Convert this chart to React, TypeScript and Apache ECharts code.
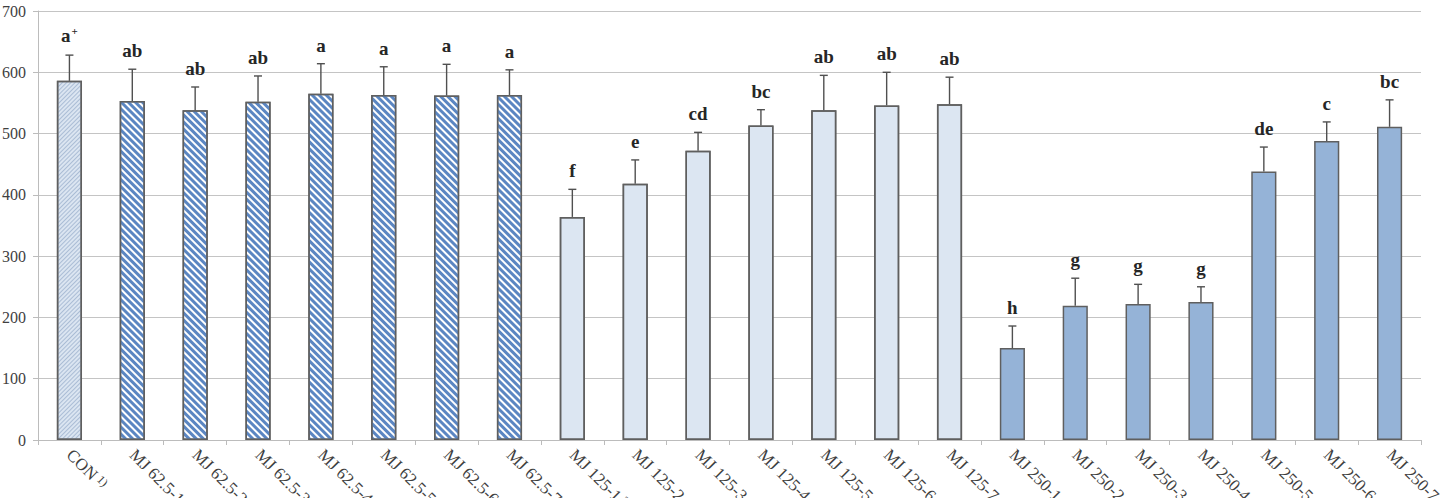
import React, { useEffect, useRef } from "react";
import * as echarts from "echarts";

const categories = [
  "CON",
  "MJ 62.5-1", "MJ 62.5-2", "MJ 62.5-3", "MJ 62.5-4", "MJ 62.5-5", "MJ 62.5-6", "MJ 62.5-7",
  "MJ 125-1", "MJ 125-2", "MJ 125-3", "MJ 125-4", "MJ 125-5", "MJ 125-6", "MJ 125-7",
  "MJ 250-1", "MJ 250-2", "MJ 250-3", "MJ 250-4", "MJ 250-5", "MJ 250-6", "MJ 250-7",
];
const notes = ["1)", "2)", "", "", "", "", "", "", "3)", "", "", "", "", "", "", "4)", "", "", "", "", "", ""];
const means = [586, 553, 538, 552, 565, 563, 562, 563, 364, 418, 472, 513, 538, 546, 548, 150, 219, 222, 225, 438, 488, 511];
const errors = [42, 52, 38, 42, 49, 46, 51, 41, 45, 39, 30, 26, 57, 54, 44, 36, 45, 32, 25, 40, 31, 44];
const letters = ["a", "ab", "ab", "ab", "a", "a", "a", "a", "f", "e", "cd", "bc", "ab", "ab", "ab", "h", "g", "g", "g", "de", "c", "bc"];
const letterSup = ["+", "", "", "", "", "", "", "", "", "", "", "", "", "", "", "", "", "", "", "", "", ""];
const yTicks = [0, 100, 200, 300, 400, 500, 600, 700];

const SERIF = "Times New Roman, Liberation Serif, DejaVu Serif, serif";

function styleFor(name: string) {
  if (name === "CON") {
    return {
      color: "#dbe5f1",
      decal: {
        symbol: "rect",
        color: "rgba(110,140,180,0.45)",
        dashArrayX: [1, 0],
        dashArrayY: [1, 2],
        rotation: -Math.PI / 4,
      },
    };
  }
  if (name.startsWith("MJ 62.5")) {
    return {
      color: "#ffffff",
      decal: {
        symbol: "rect",
        color: "#5b86c2",
        dashArrayX: [1, 0],
        dashArrayY: [2.5, 2],
        rotation: Math.PI / 4,
      },
    };
  }
  if (name.startsWith("MJ 125")) {
    return {
      color: "#dce6f2",
      decal: {
        symbol: "circle",
        symbolSize: 0.9,
        color: "rgba(130,155,195,0.5)",
        dashArrayX: [2, 1],
        dashArrayY: [1, 2],
        rotation: 0,
      },
    };
  }
  return { color: "#95b3d7" };
}

export default function App() {
  const ref = useRef<HTMLDivElement>(null);
  useEffect(() => {
    document.body.style.margin = "0";
    const chart = echarts.init(ref.current!, null, { renderer: "svg" });
    const barData = means.map((v, i) => {
      const s = styleFor(categories[i]);
      return {
        value: v,
        itemStyle: {
          color: s.color,
          borderColor: "#5f5f5f",
          borderWidth: 1.5,
          ...(s.decal ? { decal: s.decal } : {}),
        },
      };
    });
    chart.setOption({
      animation: false,
      textStyle: { fontFamily: SERIF },
      grid: { left: 38, right: 22, top: 11, bottom: 58, containLabel: false, outerBoundsMode: "none" },
      xAxis: {
        type: "category",
        data: categories,
        axisLine: { lineStyle: { color: "#bcbcbc", width: 1 } },
        axisTick: { show: true, length: 5, lineStyle: { color: "#bcbcbc" } },
        axisLabel: {
          rotate: -45,
          margin: 12,
          interval: 0,
          color: "#3f3f3f",
          fontFamily: SERIF,
          fontSize: 17,
          formatter: (value: string, index: number) =>
            notes[index] ? `{n|${value}}{s| ${notes[index]}}` : `{n|${value}}`,
          rich: {
            n: { fontFamily: SERIF, fontSize: 17, color: "#3f3f3f" },
            s: { fontFamily: SERIF, fontSize: 12, color: "#3f3f3f", verticalAlign: "top", padding: [0, 0, 6, 0] },
          },
        },
      },
      yAxis: {
        type: "value",
        min: yTicks[0],
        max: yTicks[yTicks.length - 1],
        interval: 100,
        axisLine: { show: true, lineStyle: { color: "#bcbcbc" } },
        axisTick: { show: true, length: 5, lineStyle: { color: "#bcbcbc" } },
        splitLine: { lineStyle: { color: "#c4c4c4", width: 1 } },
        axisLabel: { color: "#3f3f3f", fontFamily: SERIF, fontSize: 16, margin: 12 },
      },
      series: [
        {
          type: "bar",
          data: barData,
          barWidth: "40%",
          z: 2,
        },
        {
          type: "custom",
          z: 3,
          data: means.map((v, i) => [i, v, errors[i]]),
          renderItem: (params: any, api: any) => {
            const i = api.value(0);
            const base = api.coord([i, api.value(1)]);
            const top = api.coord([i, api.value(1) + api.value(2)]);
            const sup = letterSup[params.dataIndex];
            const txt = sup
              ? `{b|${letters[params.dataIndex]}}{s|${sup}}`
              : `{b|${letters[params.dataIndex]}}`;
            return {
              type: "group",
              children: [
                {
                  type: "line",
                  shape: { x1: base[0], y1: base[1], x2: top[0], y2: top[1] },
                  style: { stroke: "#505050", lineWidth: 1.4 },
                },
                {
                  type: "line",
                  shape: { x1: top[0] - 4, y1: top[1], x2: top[0] + 4, y2: top[1] },
                  style: { stroke: "#505050", lineWidth: 1.4 },
                },
                {
                  type: "text",
                  x: top[0],
                  y: top[1] - 9,
                  style: {
                    text: txt,
                    align: "center",
                    verticalAlign: "bottom",
                    fontFamily: SERIF,
                    rich: {
                      b: { fontFamily: SERIF, fontSize: 19, fontWeight: "bold", fill: "#262626", color: "#262626" },
                      s: { fontFamily: SERIF, fontSize: 11, fontWeight: "bold", fill: "#262626", color: "#262626", verticalAlign: "top", padding: [0, 0, 10, 1] },
                    },
                  },
                },
              ],
            };
          },
        },
      ],
    });
    return () => chart.dispose();
  }, []);
  return <div ref={ref} style={{ width: 1443, height: 498 }} />;
}
